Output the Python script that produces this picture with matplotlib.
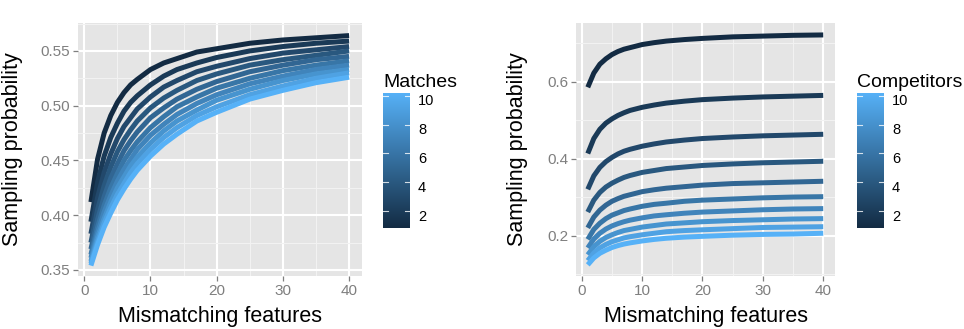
import numpy as np
import matplotlib
matplotlib.use("Agg")
import matplotlib.pyplot as plt
from matplotlib.colors import LinearSegmentedColormap

plt.rcParams["font.family"] = ["Liberation Sans", "DejaVu Sans"]

# values
mismatches = [1, 2, 3, 4, 5, 6, 7, 8, 10, 12, 14, 17, 20, 25, 30, 35, 40]
matches = [1, 2, 3, 4, 5, 6, 7, 8, 9, 10]
competitors = [1, 2, 3, 4, 5, 6, 7, 8, 9, 10]

prob_by_matches = [
    [0.412, 0.451, 0.475, 0.491, 0.503, 0.512, 0.519, 0.524, 0.533, 0.539, 0.543, 0.549, 0.552, 0.557, 0.560, 0.562, 0.564],
    [0.394, 0.430, 0.454, 0.471, 0.484, 0.495, 0.503, 0.509, 0.519, 0.527, 0.533, 0.539, 0.544, 0.550, 0.554, 0.557, 0.559],
    [0.383, 0.416, 0.439, 0.456, 0.470, 0.481, 0.489, 0.497, 0.508, 0.517, 0.523, 0.531, 0.536, 0.543, 0.548, 0.551, 0.554],
    [0.375, 0.405, 0.427, 0.444, 0.458, 0.469, 0.478, 0.486, 0.498, 0.507, 0.514, 0.523, 0.529, 0.537, 0.542, 0.546, 0.550],
    [0.369, 0.396, 0.417, 0.434, 0.447, 0.459, 0.468, 0.476, 0.489, 0.498, 0.506, 0.515, 0.522, 0.531, 0.537, 0.542, 0.545],
    [0.364, 0.389, 0.409, 0.425, 0.438, 0.450, 0.459, 0.467, 0.480, 0.490, 0.499, 0.508, 0.516, 0.525, 0.532, 0.537, 0.541],
    [0.361, 0.384, 0.403, 0.418, 0.431, 0.442, 0.451, 0.460, 0.473, 0.483, 0.492, 0.502, 0.510, 0.520, 0.527, 0.533, 0.537],
    [0.358, 0.380, 0.397, 0.412, 0.425, 0.435, 0.445, 0.453, 0.466, 0.477, 0.486, 0.496, 0.505, 0.515, 0.523, 0.529, 0.533],
    [0.356, 0.376, 0.393, 0.407, 0.419, 0.429, 0.439, 0.447, 0.460, 0.471, 0.480, 0.491, 0.499, 0.510, 0.518, 0.525, 0.530],
    [0.354, 0.373, 0.389, 0.402, 0.414, 0.424, 0.433, 0.441, 0.454, 0.465, 0.474, 0.486, 0.494, 0.506, 0.514, 0.521, 0.526],
]

prob_by_competitors = [
    [0.585, 0.622, 0.645, 0.659, 0.670, 0.678, 0.684, 0.688, 0.696, 0.701, 0.705, 0.709, 0.712, 0.716, 0.718, 0.720, 0.721],
    [0.413, 0.452, 0.476, 0.492, 0.503, 0.512, 0.519, 0.525, 0.533, 0.539, 0.544, 0.549, 0.553, 0.557, 0.560, 0.562, 0.564],
    [0.320, 0.355, 0.377, 0.392, 0.403, 0.412, 0.419, 0.424, 0.432, 0.438, 0.443, 0.448, 0.452, 0.456, 0.459, 0.461, 0.463],
    [0.261, 0.292, 0.312, 0.326, 0.336, 0.344, 0.351, 0.356, 0.364, 0.369, 0.374, 0.378, 0.382, 0.386, 0.389, 0.391, 0.393],
    [0.220, 0.248, 0.266, 0.279, 0.289, 0.296, 0.302, 0.306, 0.314, 0.319, 0.323, 0.327, 0.331, 0.335, 0.337, 0.339, 0.341],
    [0.190, 0.216, 0.232, 0.244, 0.253, 0.259, 0.265, 0.269, 0.276, 0.281, 0.284, 0.289, 0.292, 0.295, 0.298, 0.300, 0.301],
    [0.168, 0.191, 0.206, 0.217, 0.225, 0.231, 0.236, 0.240, 0.246, 0.251, 0.254, 0.258, 0.261, 0.264, 0.267, 0.269, 0.270],
    [0.150, 0.171, 0.185, 0.195, 0.202, 0.208, 0.213, 0.216, 0.222, 0.226, 0.230, 0.233, 0.236, 0.239, 0.241, 0.243, 0.244],
    [0.135, 0.155, 0.168, 0.177, 0.184, 0.189, 0.194, 0.197, 0.202, 0.206, 0.210, 0.213, 0.215, 0.218, 0.221, 0.222, 0.223],
    [0.124, 0.142, 0.154, 0.162, 0.169, 0.174, 0.178, 0.181, 0.186, 0.190, 0.193, 0.196, 0.198, 0.201, 0.203, 0.204, 0.206],
]

x_ticks = [0, 10, 20, 30, 40]
left_y_ticks = [0.35, 0.40, 0.45, 0.50, 0.55]
left_y_labels = ["0.35", "0.40", "0.45", "0.50", "0.55"]
right_y_ticks = [0.2, 0.4, 0.6]
right_y_labels = ["0.2", "0.4", "0.6"]
legend_ticks = [2, 4, 6, 8, 10]

W, H = 964, 329
GREY_TEXT = "#7F7F7F"
cmap = LinearSegmentedColormap.from_list("gg", ["#132B43", "#56B1F7"])


def box(x0, y0, x1, y1):
    # pixel box (from top-left) -> figure fraction rect
    return [x0 / W, 1 - y1 / H, (x1 - x0) / W, (y1 - y0) / H]


def style_panel(ax, yticks, ylabels, yminor, ylim):
    ax.set_facecolor("#E5E5E5")
    for s in ax.spines.values():
        s.set_visible(False)
    ax.set_xlim(-0.95, 41.95)
    ax.set_ylim(*ylim)
    ax.set_xticks(x_ticks)
    ax.set_xticklabels([str(t) for t in x_ticks])
    ax.set_xticks([5, 15, 25, 35], minor=True)
    ax.set_yticks(yticks)
    ax.set_yticklabels(ylabels)
    ax.set_yticks(yminor, minor=True)
    ax.grid(which="major", color="white", lw=1.5)
    ax.grid(which="minor", color="#F2F2F2", lw=0.8)
    ax.set_axisbelow(True)
    ax.tick_params(which="major", length=3.6, width=0.9, color=GREY_TEXT,
                   labelcolor=GREY_TEXT, labelsize=11, pad=2)
    ax.tick_params(which="minor", length=0)
    ax.set_xlabel("Mismatching features", fontsize=15.5, va="center")
    ax.set_ylabel("Sampling probability", fontsize=15.5, va="center")


def draw_legend(rect, title, tx):
    lax = fig.add_axes(rect)
    grad = np.linspace(1, 10, 256).reshape(-1, 1)
    lax.imshow(grad, cmap=cmap, aspect="auto", origin="lower",
               extent=[0, 1, 1.21, 10.59], vmin=1, vmax=10)
    lax.set_xlim(0, 1)
    lax.set_ylim(1.21, 10.59)
    for t in legend_ticks:
        lax.plot([0, 0.2], [t + 0.4, t + 0.4], color="white", lw=0.8, alpha=0.8)
        lax.plot([0.8, 1], [t + 0.4, t + 0.4], color="white", lw=0.8, alpha=0.8)
        lax.text(1.3, t, str(t), fontsize=10.5, va="center", ha="left",
                 transform=lax.transData, clip_on=False)
    lax.axis("off")
    fig.text(tx / W, 1 - 87 / H, title, fontsize=14, va="baseline", ha="left")


fig = plt.figure(figsize=(W / 100, H / 100), dpi=100)

ax1 = fig.add_axes(box(78, 23, 362, 276))
for m, ys in zip(matches, prob_by_matches):
    ax1.plot(mismatches, ys, color=cmap((m - 1) / 9), lw=3.6, solid_capstyle="butt")
style_panel(ax1, left_y_ticks, left_y_labels, [0.375, 0.425, 0.475, 0.525, 0.575], (0.3445, 0.5755))
ax1.yaxis.set_label_coords(-0.232, 0.5)
ax1.xaxis.set_label_coords(0.5, -0.162)

ax2 = fig.add_axes(box(576, 23, 835, 276))
for c, ys in zip(competitors, prob_by_competitors):
    ax2.plot(mismatches, ys, color=cmap((c - 1) / 9), lw=3.6, solid_capstyle="butt")
style_panel(ax2, right_y_ticks, right_y_labels, [0.1, 0.3, 0.5, 0.7], (0.095, 0.752))
ax2.yaxis.set_label_coords(-0.224, 0.5)
ax2.xaxis.set_label_coords(0.5, -0.162)

draw_legend(box(383, 93, 410, 228), "Matches", 383)
draw_legend(box(857, 93, 884, 228), "Competitors", 857)

fig.savefig("out.png", dpi=100)
